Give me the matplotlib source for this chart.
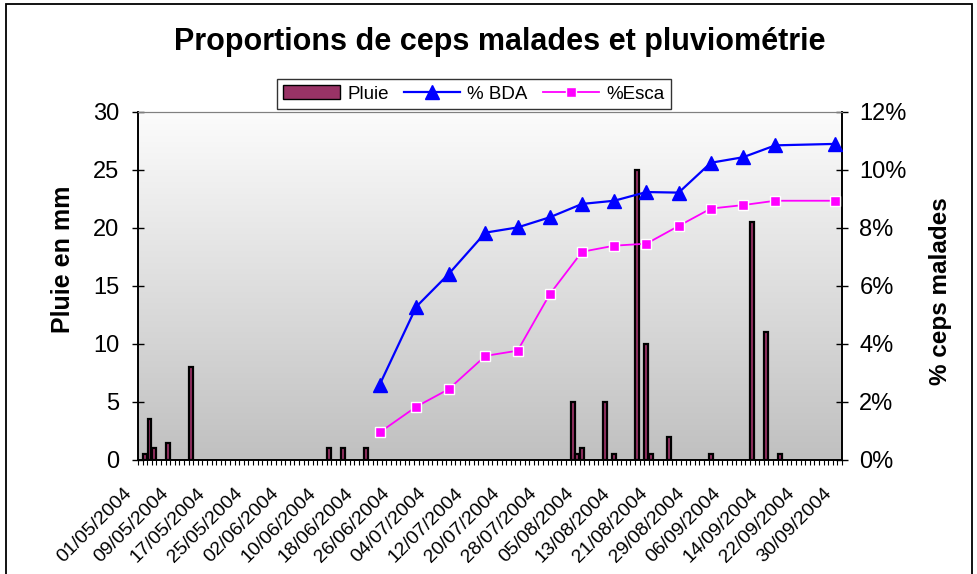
import numpy as np
import pandas as pd
import matplotlib
matplotlib.use('Agg')
import matplotlib.pyplot as plt
import matplotlib.dates as mdates
import matplotlib.transforms as mtransforms
from matplotlib.colors import LinearSegmentedColormap
from matplotlib.patches import Rectangle
from matplotlib.lines import Line2D

plt.rcParams['font.family'] = ['Liberation Sans', 'DejaVu Sans']

# pluie journaliere (mm)
rain_dates = ['2004-05-02', '2004-05-03', '2004-05-04', '2004-05-07', '2004-05-12',
              '2004-06-11', '2004-06-14', '2004-06-19',
              '2004-08-03', '2004-08-04', '2004-08-05', '2004-08-10', '2004-08-12',
              '2004-08-17', '2004-08-19', '2004-08-20', '2004-08-24',
              '2004-09-02', '2004-09-11', '2004-09-14', '2004-09-17']
rain_mm = [0.5, 3.5, 1.0, 1.5, 8.0,
           1.0, 1.0, 1.0,
           5.0, 0.5, 1.0, 5.0, 0.5,
           25.0, 10.0, 0.5, 2.0,
           0.5, 20.5, 11.0, 0.5]

# notations (% de ceps malades)
obs_dates = ['2004-06-22', '2004-06-30', '2004-07-07', '2004-07-15', '2004-07-22',
             '2004-07-29', '2004-08-05', '2004-08-12', '2004-08-19', '2004-08-26',
             '2004-09-02', '2004-09-09', '2004-09-16', '2004-09-29']
bda_pct = [2.59, 5.29, 6.41, 7.84, 8.02, 8.37, 8.83, 8.94, 9.24, 9.22,
           10.25, 10.44, 10.85, 10.90]
esca_pct = [0.95, 1.84, 2.44, 3.59, 3.77, 5.72, 7.18, 7.39, 7.46, 8.07,
            8.67, 8.79, 8.94, 8.94]

start, end = '2004-05-01', '2004-09-30'
W, H = 978, 574

fig = plt.figure(figsize=(W / 100, H / 100), dpi=100)
ax = fig.add_axes([138 / W, 1 - 460 / H, (842 - 138) / W, (460 - 112) / H])

rd = pd.to_datetime(rain_dates)
od = pd.to_datetime(obs_dates)
x0 = mdates.date2num(pd.Timestamp(start)) - 0.5
x1 = mdates.date2num(pd.Timestamp(end)) + 0.5

# fond degrade
cmap = LinearSegmentedColormap.from_list('bg', ['#c0c0c0', '#fcfcfc'])
ax.imshow(np.linspace(0, 1, 256).reshape(-1, 1), cmap=cmap, origin='lower',
          extent=[0, 1, 0, 1], transform=ax.transAxes, aspect='auto', zorder=0)

ax.bar(rd, rain_mm, width=0.85, color='#993366', edgecolor='black',
       linewidth=1.6, zorder=2)
ax.set_xlim(x0, x1)
ax.set_ylim(0, 30)
ax.set_yticks(np.arange(0, 31, 5))

ax2 = ax.twinx()
ax2.plot(od, bda_pct, color='#0000ff', linewidth=1.6, marker='^',
         markersize=10, markeredgecolor='#0000ff', zorder=3)
ax2.plot(od, esca_pct, color='#ff00ff', linewidth=1.3, marker='s',
         markersize=6.5, markeredgecolor='white', markeredgewidth=1.0, zorder=3)
ax2.set_ylim(0, 12)
ax2.set_yticks(np.arange(0, 13, 2))
ax2.yaxis.set_major_formatter(plt.FuncFormatter(lambda v, p: '%d%%' % v))
ax2.set_xlim(x0, x1)

# axe des dates
ticks = pd.date_range(start, end, freq='8D')
ax.set_xticks(mdates.date2num(ticks))
ax.set_xticklabels([t.strftime('%d/%m/%Y') for t in ticks], rotation=45,
                   ha='right', va='center', rotation_mode='anchor', fontsize=14)
ax.set_xticks(np.arange(x0, x1 + 0.01, 1.0), minor=True)
ax.tick_params(axis='x', which='major', length=0, pad=22)
ax.tick_params(axis='x', which='minor', length=3.5, width=0.8, direction='out')
offset = mtransforms.ScaledTranslation(-11 / 100, 0, fig.dpi_scale_trans)
for lab in ax.get_xticklabels():
    lab.set_transform(lab.get_transform() + offset)

ax.tick_params(axis='y', direction='inout', length=9, width=1, labelsize=17, pad=9)
ax2.tick_params(axis='y', direction='inout', length=9, width=1, labelsize=17, pad=8)

for a in (ax, ax2):
    a.spines['top'].set_color('#808080')
    a.spines['left'].set_linewidth(1.2)
    a.spines['right'].set_linewidth(1.2)
    a.spines['bottom'].set_linewidth(1.2)

fig.text(0.511, 0.927, 'Proportions de ceps malades et pluviométrie',
         ha='center', va='center', fontsize=22, fontweight='bold')
fig.text(0.064, 0.549, 'Pluie en mm', rotation=90, ha='center', va='center',
         fontsize=18, fontweight='bold')
fig.text(0.962, 0.493, '% ceps malades', rotation=90, ha='center', va='center',
         fontsize=17.5, fontweight='bold')

handles = [Rectangle((0, 0), 1, 1, facecolor='#993366', edgecolor='black', linewidth=1),
           Line2D([], [], color='#0000ff', marker='^', markersize=10, linewidth=1.6),
           Line2D([], [], color='#ff00ff', marker='s', markersize=6.5,
                  markeredgecolor='white', linewidth=1.3)]
leg = fig.legend(handles, ['Pluie', '% BDA', '%Esca'], loc='center',
                 bbox_to_anchor=(474 / W, 1 - 94 / H), ncol=3, fontsize=13.5,
                 frameon=True, fancybox=False, edgecolor='black',
                 handlelength=3.0, handletextpad=0.4, columnspacing=0.8,
                 borderpad=0.35)
leg.get_frame().set_linewidth(1.0)

fig.patches.append(Rectangle((6 / W, -0.05), (972 - 6) / W, 1.05 - 4 / H,
                             transform=fig.transFigure, fill=False,
                             edgecolor='black', linewidth=1.3))

fig.savefig('out.png', dpi=100)
